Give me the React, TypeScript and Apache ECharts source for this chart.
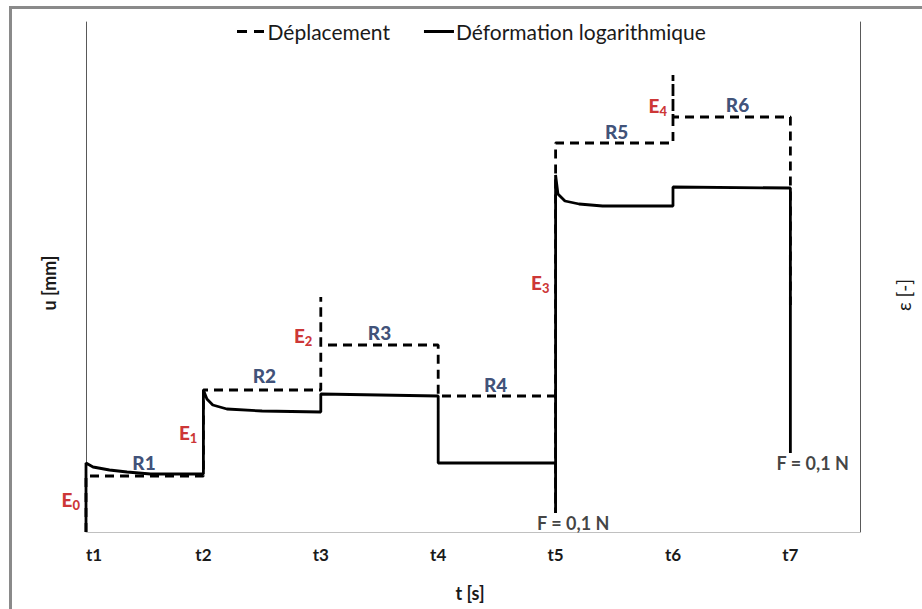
import React, { useEffect, useRef } from "react";
import * as echarts from "echarts";

// Time axis categories (positions 0..6)
const tickLabels = ["t1", "t2", "t3", "t4", "t5", "t6", "t7"];

// Déplacement (dashed) — [t index, u]
const dispT = [0, 0, 1.0, 1.0, 2.0, 2.0, 2.0, 3.0, 3.0, 4.0, 4.0, 4.0, 5.0, 5.0, 5.0, 6.0, 6.0];
const dispU = [0, 0.56, 0.56, 1.42, 1.42, 2.35, 1.87, 1.87, 1.36, 1.36, 0.19, 3.89, 3.89, 4.57, 4.15, 4.15, 2.27];

// Déformation logarithmique (solid)
const strainT = [0, 0, 0.06, 0.2, 0.35, 0.55, 1.0, 1.0, 1.03, 1.08, 1.2, 1.5, 2.0, 2.0, 3.0, 3.0, 4.0, 4.0, 4.0, 4.02, 4.08, 4.2, 4.4, 5.0, 5.0, 6.0, 6.0];
const strainE = [0, 0.69, 0.65, 0.62, 0.6, 0.58, 0.58, 1.42, 1.33, 1.27, 1.23, 1.21, 1.2, 1.38, 1.36, 0.69, 0.69, 0.19, 3.57, 3.38, 3.31, 3.28, 3.26, 3.26, 3.45, 3.44, 0.79];

// Annotations
const eNames = ["0", "1", "2", "3", "4"];
const eT = [-0.13, 0.87, 1.85, 3.87, 4.87];
const eU = [0.33, 1.0, 1.97, 2.5, 4.27];
const rNames = ["R1", "R2", "R3", "R4", "R5", "R6"];
const rT = [0.494, 1.52, 2.5, 3.49, 4.52, 5.55];
const rU = [0.7, 1.57, 2.0, 1.48, 4.01, 4.28];
const fNames = ["F = 0,1 N", "F = 0,1 N"];
const fT = [4.15, 6.19];
const fU = [0.09, 0.69];

const FONT = "Lato";

export default function App() {
  const ref = useRef<HTMLDivElement>(null);
  useEffect(() => {
    if (!ref.current) return;
    const chart = echarts.init(ref.current, undefined, { renderer: "svg" });
    const annot: any[] = [];
    eNames.forEach((n, i) =>
      annot.push({ value: [eT[i], eU[i]], label: { formatter: `{e|E}{s|${n}}` } })
    );
    rNames.forEach((n, i) =>
      annot.push({ value: [rT[i], rU[i]], label: { formatter: `{r|${n}}` } })
    );
    fNames.forEach((n, i) =>
      annot.push({ value: [fT[i], fU[i]], label: { formatter: `{f|${n}}` } })
    );
    const option: any = {
      animation: false,
      backgroundColor: "#ffffff",
      textStyle: { fontFamily: FONT },
      grid: { left: 86, right: 62, top: 22, bottom: 77, containLabel: false },
      legend: {
        data: [
          { name: "Déplacement", icon: "path://M0,0H10V3H0Z M17,0H27V3H17Z" },
          { name: "Déformation logarithmique", icon: "path://M0,0H30V3H0Z" },
        ],
        left: 232,
        top: 16,
        itemWidth: 30,
        itemHeight: 3,
        itemGap: 34,
        textStyle: { fontSize: 21, color: "#1a1a1a", fontFamily: FONT, padding: [0, 0, 0, -3] },
      },
      xAxis: {
        type: "value",
        min: 0,
        max: 6.593,
        interval: 1,
        axisLine: { show: true, lineStyle: { color: "#c0c0c0", width: 1 } },
        axisTick: { show: false },
        splitLine: { show: false },
        axisLabel: {
          margin: 14,
          fontSize: 17,
          fontWeight: "bold",
          color: "#1a1a1a",
          fontFamily: FONT,
          alignMinLabel: "left",
          showMaxLabel: false,
          formatter: (v: number) => (Number.isInteger(v) ? tickLabels[v] ?? "" : ""),
        },
      },
      yAxis: [
        {
          type: "value",
          min: 0,
          max: 5.1,
          position: "left",
          axisLine: { show: true, lineStyle: { color: "#595959", width: 1 } },
          axisTick: { show: false },
          axisLabel: { show: false },
          splitLine: { show: false },
        },
        {
          type: "value",
          min: 0,
          max: 5.1,
          position: "right",
          axisLine: { show: true, lineStyle: { color: "#595959", width: 1 } },
          axisTick: { show: false },
          axisLabel: { show: false },
          splitLine: { show: false },
        },
      ],
      series: [
        {
          name: "Déplacement",
          type: "line",
          showSymbol: false,
          symbol: "none",
          data: dispT.map((t, i) => [t, dispU[i]]),
          lineStyle: { color: "#000", width: 2.8, type: [9, 6] },
          itemStyle: { color: "#000" },
          z: 3,
        },
        {
          name: "Déformation logarithmique",
          type: "line",
          showSymbol: false,
          symbol: "none",
          data: strainT.map((t, i) => [t, strainE[i]]),
          lineStyle: { color: "#000", width: 2.8 },
          itemStyle: { color: "#000" },
          z: 2,
        },
        {
          name: "annotations",
          type: "scatter",
          symbolSize: 0,
          clip: false,
          silent: true,
          data: annot,
          label: {
            show: true,
            position: "inside",
            fontFamily: FONT,
            rich: {
              e: { fontSize: 19, fontWeight: 900, color: "#c00000", fontFamily: FONT },
              s: { fontSize: 13, fontWeight: 900, color: "#c00000", fontFamily: FONT, padding: [12, 0, 0, 0] },
              r: { fontSize: 19, fontWeight: 900, color: "#0c2455", fontFamily: FONT },
              f: { fontSize: 18, fontWeight: "bold", color: "#111", fontFamily: FONT },
            },
          },
          z: 5,
        },
      ],
      graphic: [
        {
          type: "polyline",
          silent: true,
          shape: { points: [[10.5, 609], [10.5, 7.5], [922, 7.5]] },
          style: { stroke: "#8a8a8a", lineWidth: 3, fill: "none" },
        },
        {
          type: "text",
          x: 49,
          y: 283,
          rotation: Math.PI / 2,
          style: { text: "u [mm]", fontSize: 18, fontWeight: "bold", fill: "#1a1a1a", fontFamily: FONT, textAlign: "center", textVerticalAlign: "middle" },
        },
        {
          type: "text",
          x: 903,
          y: 295,
          rotation: Math.PI / 2,
          style: { text: "ε [-]", fontSize: 19, fill: "#1a1a1a", fontFamily: FONT, textAlign: "center", textVerticalAlign: "middle" },
        },
        {
          type: "text",
          x: 470,
          y: 593,
          style: { text: "t [s]", fontSize: 18, fontWeight: "bold", fill: "#1a1a1a", fontFamily: FONT, textAlign: "center", textVerticalAlign: "middle" },
        },
      ],
    };
    chart.setOption(option);
    return () => chart.dispose();
  }, []);
  return <div ref={ref} style={{ position: "fixed", left: 0, top: 0, width: 922, height: 609 }} />;
}
